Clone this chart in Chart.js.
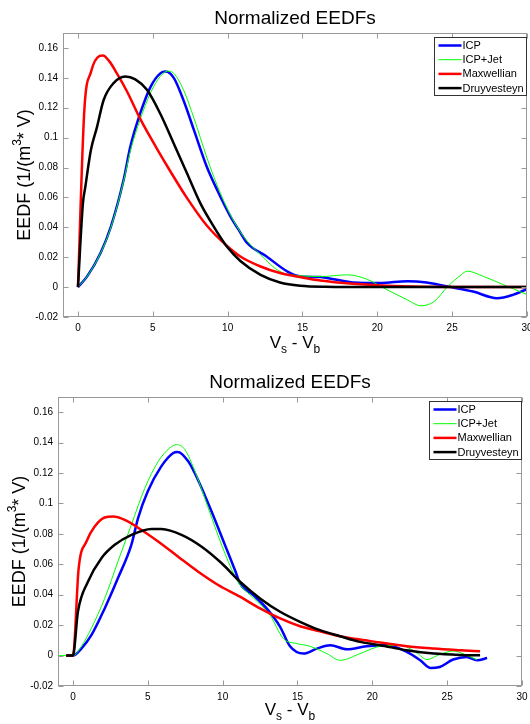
<!DOCTYPE html>
<html>
<head>
<meta charset="utf-8">
<title>Normalized EEDFs</title>
<script src="https://cdn.jsdelivr.net/npm/chart.js@4.4.0/dist/chart.umd.min.js"></script>
<style>
    body { margin: 0; background: #fff; }
    canvas { display: block; }
</style>
</head>
<body>
<canvas id="chart-top" width="530" height="360"></canvas>
<canvas id="chart-bottom" width="530" height="364"></canvas>
<script>
// tick labels (shared by both plots)
const xTicks = [0, 5, 10, 15, 20, 25, 30];
const yTicks = [-0.02, 0, 0.02, 0.04, 0.06, 0.08, 0.1, 0.12, 0.14, 0.16];
const seriesNames = ["ICP", "ICP+Jet", "Maxwellian", "Druyvesteyn"];

// ---- top plot ----
const topIcpX = [0, 0.6, 1.5, 2.2, 3.05, 3.5, 4.15, 4.85, 5.5, 5.85, 6.4, 7.05, 7.75, 8.6, 9.3, 10.2, 10.85, 11.3, 12.6, 14.0, 14.9, 16.2, 17.1, 18.4, 20.2, 22.0, 23.3, 24.7, 26.4, 28.0, 29.1, 30];
const topIcpY = [0, 0.007, 0.0227, 0.0405, 0.0718, 0.094, 0.116, 0.134, 0.143, 0.1442, 0.14, 0.125, 0.105, 0.0807, 0.065, 0.047, 0.0365, 0.0295, 0.0205, 0.0104, 0.0071, 0.0067, 0.0053, 0.0031, 0.0027, 0.004, 0.0031, 0.0004, -0.003, -0.0074, -0.005, -0.0013];

const topJetX = [0, 0.6, 1.5, 2.2, 3.05, 3.5, 4.15, 4.85, 5.5, 6.0, 6.4, 7.05, 7.75, 8.6, 9.3, 10.2, 11.05, 12.2, 13.5, 14.85, 16.2, 18.0, 19.3, 20.65, 22.0, 22.9, 23.8, 24.7, 25.6, 26.0, 27.1, 28.45, 30];
const topJetY = [0, 0.007, 0.0225, 0.04, 0.071, 0.091, 0.112, 0.13, 0.141, 0.1445, 0.143, 0.132, 0.113, 0.087, 0.068, 0.048, 0.034, 0.0216, 0.0104, 0.0076, 0.0071, 0.0082, 0.0053, -0.0018, -0.0085, -0.0125, -0.0096, 0.0004, 0.0082, 0.0107, 0.0071, 0.0015, -0.005];

const topMaxX = [0, 0.42, 0.87, 1.45, 1.67, 2.1, 2.6, 3.27, 4.16, 5.28, 6.17, 7.29, 8.62, 9.96, 10.85, 12.2, 13.5, 14.85, 16.2, 18.4, 20.65, 23, 26, 30];
const topMaxY = [0, 0.1175, 0.144, 0.1547, 0.155, 0.151, 0.143, 0.131, 0.1125, 0.0925, 0.0775, 0.0595, 0.041, 0.0275, 0.0205, 0.0138, 0.0094, 0.0067, 0.0044, 0.0022, 0.0009, 0.0003, 0.0001, 0];

const topDruX = [0, 0.33, 0.49, 0.87, 1.27, 1.71, 2.38, 3.16, 3.83, 4.61, 5.5, 6.39, 7.29, 8.18, 9.07, 9.96, 10.85, 12.2, 13.5, 14.85, 16.5, 20, 25, 30];
const topDruY = [0, 0.056, 0.067, 0.092, 0.107, 0.125, 0.1365, 0.1409, 0.139, 0.132, 0.116, 0.0963, 0.076, 0.056, 0.0405, 0.027, 0.0175, 0.0082, 0.0031, 0.0009, 0.0002, 0, 0, 0];

// ---- bottom plot ----
const botIcpX = [-0.45, 0, 0.56, 1.23, 2.12, 3.0, 3.9, 4.35, 5.0, 5.9, 6.7, 7.0, 7.7, 8.4, 9.26, 10.15, 10.82, 11.16, 12.05, 12.94, 13.84, 14.5, 15.4, 16.3, 17.2, 18.3, 19.6, 21.0, 22.3, 23.2, 23.9, 24.5, 25.4, 26.3, 27.0, 27.67];
const botIcpY = [0, 0, 0.0046, 0.0134, 0.031, 0.0508, 0.0728, 0.0904, 0.108, 0.1244, 0.1332, 0.1339, 0.1277, 0.1145, 0.0947, 0.0728, 0.0563, 0.0475, 0.0398, 0.031, 0.0189, 0.0061, 0.0013, 0.0046, 0.0068, 0.0042, 0.0061, 0.0068, 0.0024, -0.0031, -0.0082, -0.0075, -0.0026, -0.0009, -0.0031, -0.0016];

const botJetX = [-1, 0, 0.56, 1.23, 2.12, 3.0, 3.9, 4.8, 5.7, 6.47, 6.92, 7.48, 8.15, 9.04, 9.93, 10.82, 11.16, 12.05, 13.16, 14.06, 14.95, 15.84, 16.96, 17.85, 19.18, 20.52, 21.86, 22.98, 23.65, 24.54, 25.44, 26.3, 27.0];
const botJetY = [0, 0, 0.006, 0.018, 0.0376, 0.0617, 0.086, 0.11, 0.1277, 0.1365, 0.1387, 0.1354, 0.1211, 0.097, 0.0728, 0.052, 0.0464, 0.038, 0.0266, 0.0112, 0.0079, 0.0061, 0.0013, -0.0031, 0.0013, 0.0061, 0.0068, 0.0017, -0.0026, 0.0009, 0.003, 0.0002, -0.0028];

const botMaxX = [-0.45, 0, 0.38, 0.9, 1.45, 2.12, 2.68, 3.46, 4.58, 5.69, 7.03, 8.37, 9.7, 11.16, 12.5, 13.84, 15.17, 16.5, 17.84, 19.18, 20.52, 22.3, 24.1, 25.9, 27.2];
const botMaxY = [0, 0, 0.0574, 0.075, 0.0848, 0.0908, 0.0914, 0.0892, 0.0826, 0.075, 0.065, 0.0551, 0.0464, 0.0387, 0.031, 0.0244, 0.0193, 0.016, 0.0127, 0.0105, 0.0086, 0.0061, 0.0046, 0.0035, 0.0028];

const botDruX = [-0.45, 0, 0.33, 1.0, 1.9, 2.79, 3.91, 5.25, 5.9, 7.25, 8.6, 9.9, 11.16, 12.5, 13.84, 15.17, 16.5, 17.84, 19.18, 20.52, 22.3, 24.1, 25.9, 27.2];
const botDruY = [0, 0, 0.0288, 0.0486, 0.064, 0.0728, 0.0794, 0.0833, 0.0832, 0.0794, 0.0716, 0.061, 0.0486, 0.0376, 0.0288, 0.0222, 0.0167, 0.0127, 0.009, 0.0068, 0.0035, 0.0013, 0.0004, 0.0002];

const lineColors = ["#0000ff", "#00ff00", "#ff0000", "#000000"];
const lineWidths = [2.5, 1, 2.5, 2.5];
const FONT = "'Liberation Sans', Arial, sans-serif";

function zip(xs, ys) {
    return xs.map((x, i) => ({ x: x, y: ys[i] }));
}

// draws the MATLAB style box, inward ticks, title, axis labels and legend
const matlabDecor = {
    id: 'matlabDecor',
    afterDraw(chart, args, opts) {
        const ctx = chart.ctx;
        const a = chart.chartArea;
        const xs = chart.scales.x, ys = chart.scales.y;
        ctx.save();

        // box + ticks
        ctx.strokeStyle = '#999';
        ctx.lineWidth = 1;
        const L = Math.round(a.left) + 0.5, R = Math.round(a.right) - 0.5;
        const T = Math.round(a.top) + 0.5, B = Math.round(a.bottom) - 0.5;
        ctx.strokeRect(L, T, R - L, B - T);
        ctx.beginPath();
        xTicks.forEach(v => {
            const px = Math.round(xs.getPixelForValue(v)) + 0.5;
            ctx.moveTo(px, B); ctx.lineTo(px, B - 5);
            ctx.moveTo(px, T); ctx.lineTo(px, T + 5);
        });
        yTicks.forEach(v => {
            const py = Math.round(ys.getPixelForValue(v)) + 0.5;
            ctx.moveTo(L, py); ctx.lineTo(L + 5, py);
            ctx.moveTo(R, py); ctx.lineTo(R - 5, py);
        });
        ctx.stroke();

        const cx = (a.left + a.right) / 2;
        ctx.fillStyle = '#000';

        // title
        ctx.font = '19px ' + FONT;
        ctx.textAlign = 'center';
        ctx.textBaseline = 'alphabetic';
        ctx.fillText(opts.title, cx, a.top - 9);

        // x label: V_s - V_b
        const big = '17px ' + FONT, small = '12px ' + FONT;
        const parts = [['V', big, 0], ['s', small, 5], [' - V', big, 0], ['b', small, 5]];
        let total = 0;
        parts.forEach(p => { ctx.font = p[1]; total += ctx.measureText(p[0]).width; });
        let x0 = cx - total / 2;
        ctx.textAlign = 'left';
        parts.forEach(p => {
            ctx.font = p[1];
            ctx.fillText(p[0], x0, a.bottom + opts.xLabelGap + p[2]);
            x0 += ctx.measureText(p[0]).width;
        });

        // y label: EEDF (1/(m^3* V)
        const yBig = '18px ' + FONT, ySmall = '12px ' + FONT;
        const yParts = [['EEDF (1/(m', yBig, 0], ['3', ySmall, -7], ['* V)', yBig, 0]];
        ctx.save();
        ctx.translate(opts.yLabelX, (a.top + a.bottom) / 2);
        ctx.rotate(-Math.PI / 2);
        ctx.textBaseline = 'middle';
        total = 0;
        yParts.forEach(p => { ctx.font = p[1]; total += ctx.measureText(p[0]).width; });
        x0 = -total / 2;
        yParts.forEach(p => {
            ctx.font = p[1];
            ctx.fillText(p[0], x0, p[2]);
            x0 += ctx.measureText(p[0]).width;
        });
        ctx.restore();

        // legend box
        const lw = 92, lh = 58;
        const lx = Math.round(a.right) - 1 - lw + 0.5;
        const ly = Math.round(a.top) + 4 + 0.5;
        ctx.fillStyle = '#fff';
        ctx.fillRect(lx, ly, lw, lh);
        ctx.strokeStyle = '#333';
        ctx.lineWidth = 1;
        ctx.strokeRect(lx, ly, lw, lh);
        ctx.font = '11px ' + FONT;
        ctx.textBaseline = 'middle';
        ctx.textAlign = 'left';
        chart.data.datasets.forEach((ds, i) => {
            const ry = ly + 8 + i * 14.2;
            ctx.strokeStyle = ds.borderColor;
            ctx.lineWidth = ds.borderWidth;
            ctx.beginPath();
            ctx.moveTo(lx + 4, ry);
            ctx.lineTo(lx + 27, ry);
            ctx.stroke();
            ctx.fillStyle = '#000';
            ctx.fillText(ds.label, lx + 28, ry + 0.5);
        });

        ctx.restore();
    }
};

function makeChart(canvasId, xsList, ysList, layout) {
    const ctx = document.getElementById(canvasId).getContext('2d');
    const datasets = seriesNames.map((name, i) => ({
        label: name,
        data: zip(xsList[i], ysList[i]),
        borderColor: lineColors[i],
        backgroundColor: lineColors[i],
        borderWidth: lineWidths[i],
        pointRadius: 0,
        fill: false,
        cubicInterpolationMode: 'monotone',
        order: seriesNames.length - i
    }));

    return new Chart(ctx, {
        type: 'line',
        data: { datasets: datasets },
        options: {
            responsive: false,
            animation: false,
            devicePixelRatio: 1,
            layout: { padding: layout.padding },
            plugins: {
                legend: { display: false },
                title: { display: false },
                tooltip: { enabled: false },
                matlabDecor: { title: 'Normalized EEDFs', xLabelGap: layout.xLabelGap, yLabelX: layout.yLabelX }
            },
            scales: {
                x: {
                    type: 'linear',
                    min: -1,
                    max: 30,
                    afterBuildTicks: s => { s.ticks = xTicks.map(v => ({ value: v })); },
                    afterFit: s => { s.height = 20; s.paddingLeft = 0; s.paddingRight = 0; },
                    grid: { display: false, drawTicks: false },
                    border: { display: false },
                    ticks: {
                        autoSkip: false,
                        maxRotation: 0,
                        padding: 5,
                        color: '#000',
                        font: { family: FONT, size: 10 },
                        callback: v => String(v)
                    }
                },
                y: {
                    type: 'linear',
                    min: -0.02,
                    max: 0.17,
                    afterBuildTicks: s => { s.ticks = yTicks.map(v => ({ value: v })); },
                    afterFit: s => { s.width = layout.yWidth; s.paddingTop = 0; s.paddingBottom = 0; },
                    grid: { display: false, drawTicks: false },
                    border: { display: false },
                    ticks: {
                        autoSkip: false,
                        padding: 5,
                        color: '#000',
                        font: { family: FONT, size: 10 },
                        callback: v => String(Math.round(v * 100) / 100)
                    }
                }
            }
        },
        plugins: [matlabDecor]
    });
}

makeChart('chart-top',
    [topIcpX, topJetX, topMaxX, topDruX],
    [topIcpY, topJetY, topMaxY, topDruY],
    { padding: { top: 33, left: 0, right: 3, bottom: 23 }, yWidth: 63, xLabelGap: 31, yLabelX: 25 });

makeChart('chart-bottom',
    [botIcpX, botJetX, botMaxX, botDruX],
    [botIcpY, botJetY, botMaxY, botDruY],
    { padding: { top: 37, left: 0, right: 8, bottom: 18 }, yWidth: 58, xLabelGap: 29, yLabelX: 20 });
</script>
</body>
</html>
